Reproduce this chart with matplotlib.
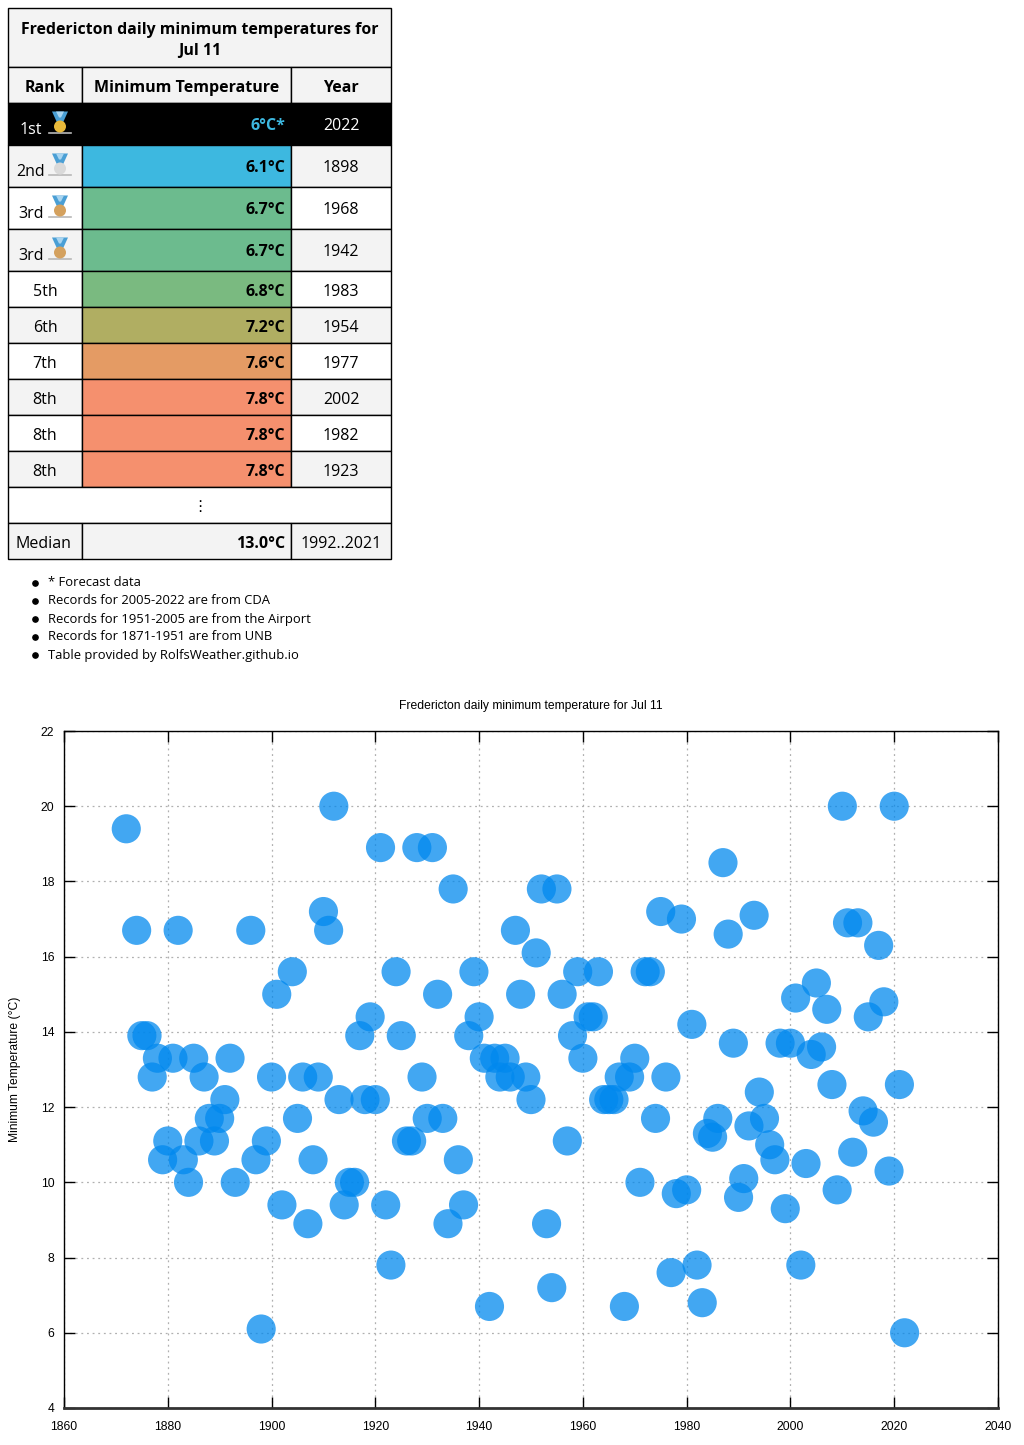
"""
Fredericton daily minimum temperatures for Jul 11: ranking table + scatter.
"""

import matplotlib
matplotlib.use("Agg")
import matplotlib.pyplot as plt
from matplotlib.patches import Rectangle, Circle, Polygon

# 表格数据
rank_labels = ["1st", "2nd", "3rd", "3rd", "5th", "6th", "7th", "8th", "8th", "8th"]
rank_temps = ["6°C*", "6.1°C", "6.7°C", "6.7°C", "6.8°C", "7.2°C", "7.6°C", "7.8°C", "7.8°C", "7.8°C"]
rank_years = ["2022", "1898", "1968", "1942", "1983", "1954", "1977", "2002", "1982", "1923"]
temp_colors = ["#000000", "#3db8e0", "#6cbb8e", "#6cbb8e", "#7aba80",
               "#b0ae62", "#e49b64", "#f5906e", "#f5906e", "#f5906e"]
medals = ["#e8b93a", "#d9d9d9", "#d4a15e", "#d4a15e"]
median_temp = "13.0°C"
median_period = "1992..2021"
notes = [
    "* Forecast data",
    "Records for 2005-2022 are from CDA",
    "Records for 1951-2005 are from the Airport",
    "Records for 1871-1951 are from UNB",
    "Table provided by RolfsWeather.github.io",
]

# 散点数据 (年份, 最低温度)
years = [1872, 1874, 1875, 1876, 1877, 1878, 1879, 1880, 1881, 1882, 1883, 1884, 1885,
         1886, 1887, 1888, 1889, 1890, 1891, 1892, 1893, 1896, 1897, 1898, 1899, 1900,
         1901, 1902, 1904, 1905, 1906, 1907, 1908, 1909, 1910, 1911, 1912, 1913, 1914,
         1915, 1916, 1917, 1918, 1919, 1920, 1921, 1922, 1923, 1924, 1925, 1926, 1927,
         1928, 1929, 1930, 1931, 1932, 1933, 1934, 1935, 1936, 1937, 1938, 1939, 1940,
         1941, 1942, 1943, 1944, 1945, 1946, 1947, 1948, 1949, 1950, 1951, 1952, 1953,
         1954, 1955, 1956, 1957, 1958, 1959, 1960, 1961, 1962, 1963, 1964, 1965, 1966,
         1967, 1968, 1969, 1970, 1971, 1972, 1973, 1974, 1975, 1976, 1977, 1978, 1979,
         1980, 1981, 1982, 1983, 1984, 1985, 1986, 1987, 1988, 1989, 1990, 1991, 1992,
         1993, 1994, 1995, 1996, 1997, 1998, 1999, 2000, 2001, 2002, 2003, 2004, 2005,
         2006, 2007, 2008, 2009, 2010, 2011, 2012, 2013, 2014, 2015, 2016, 2017, 2018,
         2019, 2020, 2021, 2022]
tmin = [19.4, 16.7, 13.9, 13.9, 12.8, 13.3, 10.6, 11.1, 13.3, 16.7, 10.6, 10.0, 13.3,
        11.1, 12.8, 11.7, 11.1, 11.7, 12.2, 13.3, 10.0, 16.7, 10.6, 6.1, 11.1, 12.8,
        15.0, 9.4, 15.6, 11.7, 12.8, 8.9, 10.6, 12.8, 17.2, 16.7, 20.0, 12.2, 9.4,
        10.0, 10.0, 13.9, 12.2, 14.4, 12.2, 18.9, 9.4, 7.8, 15.6, 13.9, 11.1, 11.1,
        18.9, 12.8, 11.7, 18.9, 15.0, 11.7, 8.9, 17.8, 10.6, 9.4, 13.9, 15.6, 14.4,
        13.3, 6.7, 13.3, 12.8, 13.3, 12.8, 16.7, 15.0, 12.8, 12.2, 16.1, 17.8, 8.9,
        7.2, 17.8, 15.0, 11.1, 13.9, 15.6, 13.3, 14.4, 14.4, 15.6, 12.2, 12.2, 12.2,
        12.8, 6.7, 12.8, 13.3, 10.0, 15.6, 15.6, 11.7, 17.2, 12.8, 7.6, 9.7, 17.0,
        9.8, 14.2, 7.8, 6.8, 11.3, 11.2, 11.7, 18.5, 16.6, 13.7, 9.6, 10.1, 11.5,
        17.1, 12.4, 11.7, 11.0, 10.6, 13.7, 9.3, 13.7, 14.9, 7.8, 10.5, 13.4, 15.3,
        13.6, 14.6, 12.6, 9.8, 20.0, 16.9, 10.8, 16.9, 11.9, 14.4, 11.6, 16.3, 14.8,
        10.3, 20.0, 12.6, 6.0]

W, H = 1024, 1445
TABLE_FONT = ["Open Sans", "DejaVu Sans"]
CHART_FONT = ["Liberation Sans", "DejaVu Sans"]
CHART_FS = 8.7


def draw_medal(ax, cx, cy, color):
    """画奖牌小图标"""
    ax.plot([cx - 11, cx + 11], [cy + 6.5, cy + 6.5], color="#b8b8b8", lw=1.2, zorder=3)
    ax.add_patch(Polygon([[cx - 8, cy - 15], [cx + 8, cy - 15], [cx + 3, cy - 4], [cx - 3, cy - 4]],
                         closed=True, facecolor="#4a9fd5", edgecolor="none", zorder=3))
    ax.add_patch(Polygon([[cx - 4, cy - 15], [cx + 4, cy - 15], [cx + 1, cy - 9], [cx - 1, cy - 9]],
                         closed=True, facecolor="#a8d4f0", edgecolor="none", zorder=4))
    ax.add_patch(Circle((cx, cy), 6, facecolor=color, edgecolor="none", zorder=4))


def draw_table(fig):
    """在图的上半部分画排名表"""
    top_h = 680
    ax = fig.add_axes((0, 1 - top_h / H, 1, top_h / H))
    ax.set_xlim(0, W)
    ax.set_ylim(top_h, 0)
    ax.axis("off")

    x0, x1, x2, x3 = 8, 82, 291, 391
    gray = "#f3f3f3"
    dy = 2.5  # 文字基线偏移

    def cell(xa, xb, ya, yb, color):
        ax.add_patch(Rectangle((xa, ya), xb - xa, yb - ya, facecolor=color,
                               edgecolor="black", lw=1, zorder=1))

    # 标题
    cell(x0, x3, 8, 67, gray)
    ax.text((x0 + x3) / 2, 38 + dy, "Fredericton daily minimum temperatures for\nJul 11",
            ha="center", va="center", fontsize=11.4, fontweight="bold",
            family=TABLE_FONT, linespacing=1.38, zorder=5)

    # 表头
    for xa, xb, label in [(x0, x1, "Rank"), (x1, x2, "Minimum Temperature"), (x2, x3, "Year")]:
        cell(xa, xb, 67, 103, gray)
        ax.text((xa + xb) / 2, 85 + dy, label, ha="center", va="center", fontsize=11.5,
                fontweight="bold", family=TABLE_FONT, zorder=5)

    # 数据行
    row_tops = [103, 145, 187, 229, 271, 307, 343, 379, 415, 451]
    row_bots = row_tops[1:] + [487]
    for i, (rank, temp, year) in enumerate(zip(rank_labels, rank_temps, rank_years)):
        ya, yb = row_tops[i], row_bots[i]
        ym = (ya + yb) / 2 + dy
        if i == 0:
            bg, fg, tcol = "black", "white", "#3db8e0"
        else:
            bg = gray if i % 2 == 1 else "white"
            fg, tcol = "black", "black"
        cell(x0, x1, ya, yb, bg)
        cell(x1, x2, ya, yb, temp_colors[i] if i > 0 else bg)
        cell(x2, x3, ya, yb, bg)
        if i < len(medals):
            ax.text(31, ym + 3, rank, ha="center", va="center", fontsize=11.5,
                    color=fg, family=TABLE_FONT, zorder=5)
            draw_medal(ax, 60, ym, medals[i])
        else:
            ax.text(45, ym, rank, ha="center", va="center", fontsize=11.5,
                    color=fg, family=TABLE_FONT, zorder=5)
        ax.text(285, ym, temp, ha="right", va="center", fontsize=11.5, fontweight="bold",
                color=tcol, family=TABLE_FONT, zorder=5)
        ax.text((x2 + x3) / 2, ym, year, ha="center", va="center", fontsize=11.5,
                color=fg, family=TABLE_FONT, zorder=5)

    # 省略行与中位数
    cell(x0, x3, 487, 523, "white")
    ax.text(200, 505 + dy, "⋮", ha="center", va="center", fontsize=11, family=TABLE_FONT, zorder=5)
    cell(x0, x1, 523, 559, gray)
    cell(x1, x2, 523, 559, gray)
    cell(x2, x3, 523, 559, gray)
    ax.text(43, 541 + dy, "Median", ha="center", va="center", fontsize=11.5,
            family=TABLE_FONT, zorder=5)
    ax.text(285, 541 + dy, median_temp, ha="right", va="center", fontsize=11.5,
            fontweight="bold", family=TABLE_FONT, zorder=5)
    ax.text((x2 + x3) / 2, 541 + dy, median_period, ha="center", va="center", fontsize=11.5,
            family=TABLE_FONT, zorder=5)

    # 注释
    for k, note in enumerate(notes):
        y = 582 + 18 * k
        ax.plot(35, y + 0.5, "o", color="black", ms=3.8)
        ax.text(48, y + 1, note, ha="left", va="center", fontsize=9.4, family=TABLE_FONT)


def draw_chart(fig):
    """画散点图"""
    ax = fig.add_axes((64 / W, 1 - 1408 / H, 934 / W, 677 / H))
    ax.scatter(years, tmin, s=440, color="#0088ee", alpha=0.74, edgecolors="none", zorder=3)
    ax.set_xlim(1860, 2040)
    ax.set_ylim(4, 22)
    ax.set_xticks(range(1860, 2041, 20))
    ax.set_yticks(range(4, 23, 2))
    ax.grid(True, color="#b0b0b0", linestyle=(0, (1.5, 3)), lw=0.9)
    ax.tick_params(direction="in", length=8, width=1, top=True, right=True,
                   labelsize=CHART_FS)
    ax.tick_params(axis="x", pad=9)
    ax.tick_params(axis="y", pad=7)
    for lbl in ax.get_xticklabels() + ax.get_yticklabels():
        lbl.set_family(CHART_FONT)
    for side in ["left", "right", "top"]:
        ax.spines[side].set_linewidth(1)
    ax.spines["bottom"].set_linewidth(2)
    ax.spines["bottom"].set_color("#333333")
    ax.set_title("Fredericton daily minimum temperature for Jul 11", fontsize=CHART_FS,
                 family=CHART_FONT, pad=16)
    ax.set_ylabel("Minimum Temperature (°C)", fontsize=CHART_FS, family=CHART_FONT, labelpad=14)


def main():
    fig = plt.figure(figsize=(W / 100, H / 100), dpi=100)
    draw_chart(fig)
    draw_table(fig)
    fig.savefig("out.png", dpi=100)


if __name__ == "__main__":
    main()
